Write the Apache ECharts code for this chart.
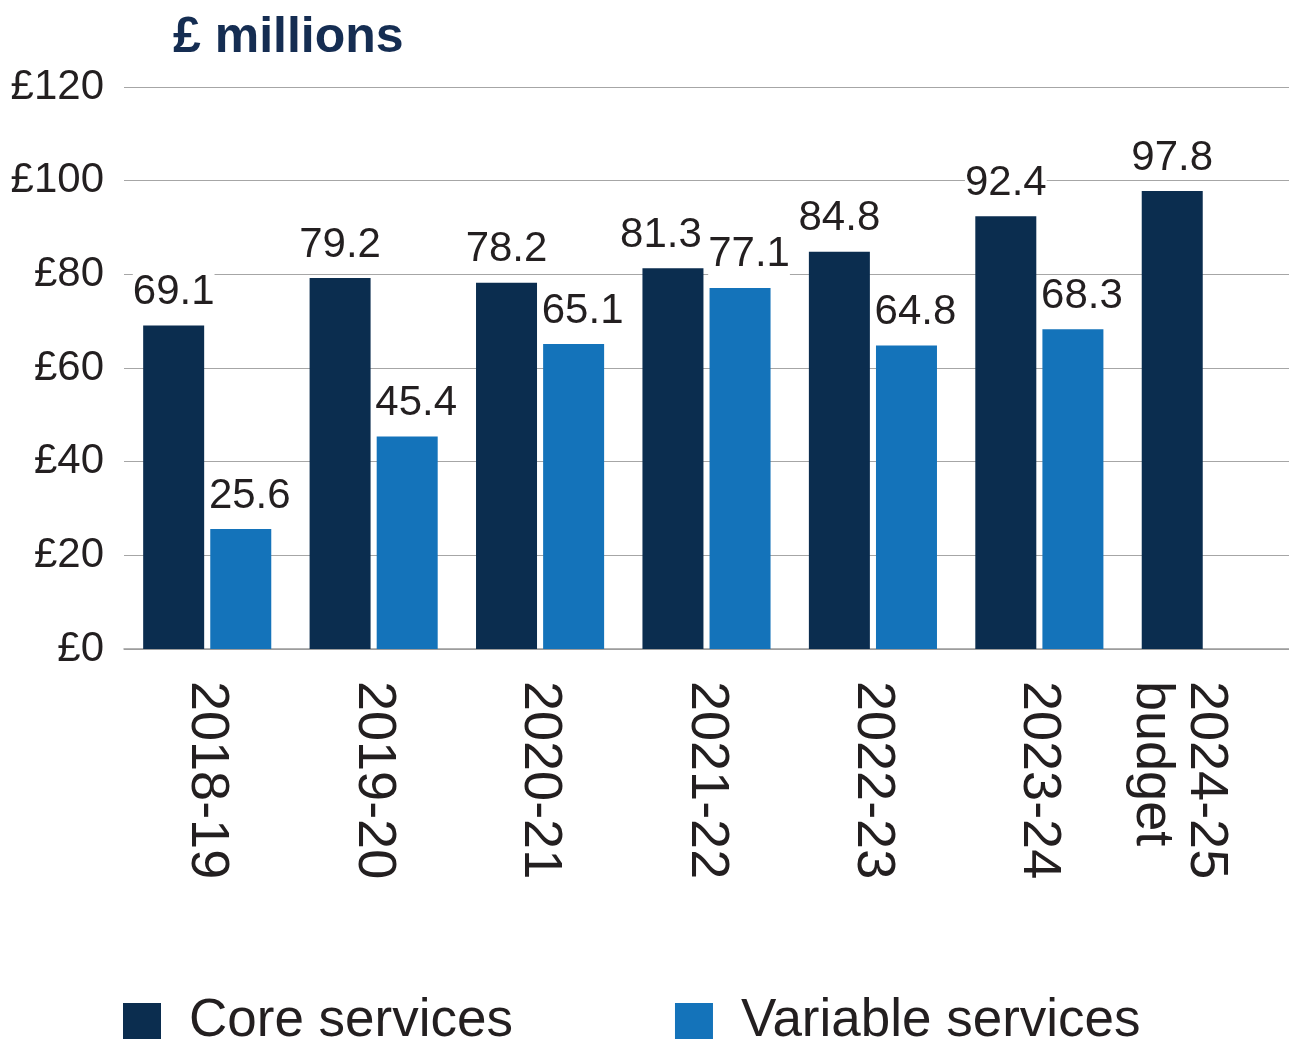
<!DOCTYPE html>
<html>
<head>
<meta charset="utf-8">
<script src="https://cdn.jsdelivr.net/npm/echarts@6/dist/echarts.min.js"></script>
<style>
  html, body { margin: 0; padding: 0; background: #ffffff; }
  #chart { width: 1289px; height: 1039px; }
</style>
</head>
<body>
<div id="chart"></div>
<script>
// Spending by year, £ millions
const years = ['2018-19', '2019-20', '2020-21', '2021-22', '2022-23', '2023-24', '2024-25\nbudget'];
const coreServices = [69.1, 79.2, 78.2, 81.3, 84.8, 92.4, 97.8];
const variableServices = [25.6, 45.4, 65.1, 77.1, 64.8, 68.3, null];
const yMin = 0;
const yMax = 120;
const yStep = 20;

const FONT = '"Liberation Sans", Arial, Helvetica, sans-serif';
const INK = '#231f20';
const CORE_COLOUR = '#0b2d4f';
const VARIABLE_COLOUR = '#1473ba';

// nudges so neighbouring value labels do not collide
const CORE_LABEL_SHIFT = { 3: -12 };
const VARIABLE_LABEL_SHIFT = 9;

function valueLabel(dx) {
  return {
    show: true,
    position: 'top',
    distance: 12,
    offset: [dx, 0],
    formatter: p => (p.value == null ? '' : Number(p.value).toFixed(1)),
    fontFamily: FONT,
    fontSize: 42,
    lineHeight: 42,
    color: INK,
    backgroundColor: '#ffffff',
    padding: 0
  };
}

const coreData = coreServices.map((v, i) =>
  CORE_LABEL_SHIFT[i] !== undefined ? { value: v, label: { offset: [CORE_LABEL_SHIFT[i], 0] } } : v
);

const chart = echarts.init(document.getElementById('chart'), null, { renderer: 'canvas' });

chart.setOption({
  animation: false,
  backgroundColor: '#ffffff',
  title: {
    text: '£ millions',
    left: 168,
    top: 8,
    textStyle: { fontFamily: FONT, fontSize: 50, fontWeight: 'bold', color: '#152d52' }
  },
  legend: {
    left: 118,
    top: 990,
    itemWidth: 38,
    itemHeight: 37,
    itemGap: 162,
    icon: 'rect',
    textStyle: { fontFamily: FONT, fontSize: 53, color: INK, padding: [0, 0, 0, 23] },
    data: ['Core services', 'Variable services']
  },
  grid: { left: 124, right: -3, top: 87, bottom: 390, containLabel: false },
  xAxis: {
    type: 'category',
    data: years,
    axisLine: { show: true, lineStyle: { color: '#9a9a9a', width: 1.5 } },
    axisTick: { show: false },
    axisLabel: {
      rotate: -90,
      margin: 32,
      interval: 0,
      fontFamily: FONT,
      fontSize: 54,
      lineHeight: 54,
      color: INK,
      // keep the first line of a two-line label on the category centre
      formatter: v => (v.indexOf('\n') >= 0 ? '\n' + v : v)
    }
  },
  yAxis: {
    type: 'value',
    min: yMin,
    max: yMax,
    interval: yStep,
    axisLine: { show: false },
    axisTick: { show: false },
    splitLine: { show: true, lineStyle: { color: '#a6a6a6', width: 1.2 } },
    axisLabel: {
      margin: 20,
      fontFamily: FONT,
      fontSize: 42,
      color: INK,
      padding: [0, 0, 10, 0],
      formatter: v => '£' + v
    }
  },
  series: [
    {
      name: 'Core services',
      type: 'bar',
      data: coreData,
      barWidth: 61,
      barGap: '10%',
      itemStyle: { color: CORE_COLOUR },
      label: valueLabel(0)
    },
    {
      name: 'Variable services',
      type: 'bar',
      data: variableServices,
      barWidth: 61,
      barGap: '10%',
      itemStyle: { color: VARIABLE_COLOUR },
      label: valueLabel(VARIABLE_LABEL_SHIFT)
    }
  ]
});
</script>
</body>
</html>
